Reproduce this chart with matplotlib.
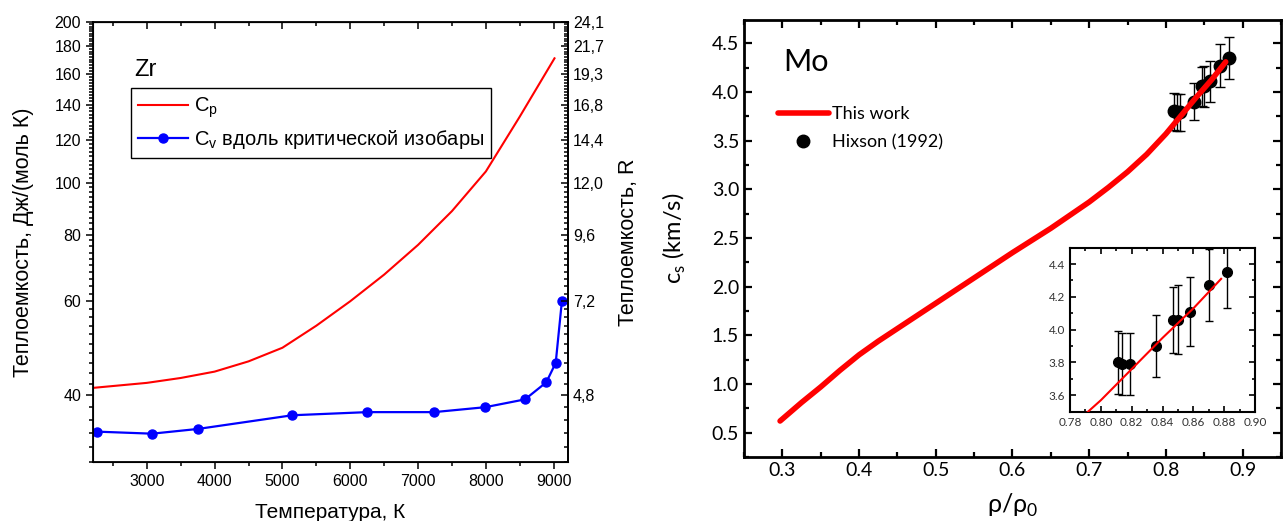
import matplotlib.pyplot as plt
from matplotlib.ticker import FixedLocator, MultipleLocator, NullFormatter, FixedFormatter

# Zr: heat capacity along the critical isobar
t_cp = [2207, 3000, 3500, 4000, 4500, 5000, 5500, 6000, 6500, 7000, 7500, 8000, 8500, 9012]
cp = [41.3, 42.2, 43.1, 44.3, 46.3, 49.1, 54.0, 60.0, 67.3, 76.5, 88.5, 105.0, 133.0, 171.0]
t_cv = [2263, 3079, 3755, 5145, 6251, 7235, 7991, 8577, 8891, 9030, 9121]
cv = [34.2, 33.9, 34.6, 36.7, 37.2, 37.2, 38.0, 39.3, 42.3, 46.0, 60.0]
left_ticks = [40, 60, 80, 100, 120, 140, 160, 180, 200]
r_labels = ["4,8", "7,2", "9,6", "12,0", "14,4", "16,8", "19,3", "21,7", "24,1"]

# Mo: sound speed vs relative density
rho = [0.297, 0.325, 0.35, 0.375, 0.40, 0.425, 0.45, 0.475, 0.50, 0.55, 0.60, 0.65,
       0.70, 0.725, 0.75, 0.775, 0.80, 0.82, 0.84, 0.86, 0.878]
cs = [0.62, 0.81, 0.97, 1.14, 1.30, 1.44, 1.57, 1.70, 1.83, 2.09, 2.35, 2.60,
      2.87, 3.02, 3.18, 3.36, 3.57, 3.76, 3.95, 4.13, 4.31]
rho_exp = [0.811, 0.814, 0.819, 0.836, 0.847, 0.850, 0.858, 0.870, 0.882]
cs_exp = [3.80, 3.79, 3.79, 3.90, 4.06, 4.06, 4.11, 4.27, 4.35]
cs_err = [0.19, 0.19, 0.19, 0.19, 0.20, 0.21, 0.21, 0.22, 0.22]

fig = plt.figure(figsize=(12.83, 5.21), dpi=100)

# ---------- left panel ----------
lfont = ['Liberation Sans', 'DejaVu Sans']
ax1 = fig.add_axes([0.0725, 0.1132, 0.3702, 0.8446])
ax1.plot(t_cp, cp, color='red', lw=1.5, label='C$_\\mathregular{p}$')
ax1.plot(t_cv, cv, color='blue', lw=1.6, marker='o', ms=6.5,
         label='C$_\\mathregular{v}$ вдоль критической изобары')
ax1.set_yscale('log')
ax1.set_xlim(2207, 9211)
ax1.set_ylim(30, 200)
ax1.xaxis.set_major_locator(MultipleLocator(1000))
ax1.xaxis.set_minor_locator(MultipleLocator(500))
ax1.yaxis.set_major_locator(FixedLocator(left_ticks))
ax1.yaxis.set_major_formatter(FixedFormatter([str(v) for v in left_ticks]))
ax1.yaxis.set_minor_locator(FixedLocator(list(range(30, 201, 2))))
ax1.yaxis.set_minor_formatter(NullFormatter())
ax1.tick_params(which='both', direction='out', top=False, right=False, labelsize=11.5, width=1.1)
ax1.tick_params(which='major', length=5)
ax1.tick_params(which='minor', length=3)
for lab in ax1.get_xticklabels() + ax1.get_yticklabels():
    lab.set_family(lfont)
for sp in ax1.spines.values():
    sp.set_linewidth(1.3)
ax1.set_xlabel('Температура, К', family=lfont, fontsize=15, labelpad=10)
ax1.set_ylabel('Теплоемкость, Дж/(моль К)', family=lfont, fontsize=15.5, labelpad=15)
ax1.text(0.086, 0.915, 'Zr', transform=ax1.transAxes, family=lfont, fontsize=17, va='top')
leg1 = ax1.legend(loc='upper left', bbox_to_anchor=(0.079, 0.849), fancybox=False,
                  edgecolor='black', framealpha=1, prop={'family': lfont, 'size': 14.5},
                  handlelength=2.5, handletextpad=0.3, borderpad=0.35,
                  borderaxespad=0, labelspacing=0.4)
leg1.get_frame().set_linewidth(1.0)

# secondary axis in units of R
ax1r = ax1.twinx()
ax1r.set_yscale('log')
ax1r.set_ylim(30, 200)
ax1r.yaxis.set_major_locator(FixedLocator(left_ticks))
ax1r.yaxis.set_major_formatter(FixedFormatter(r_labels))
ax1r.yaxis.set_minor_locator(FixedLocator(list(range(30, 201, 2))))
ax1r.yaxis.set_minor_formatter(NullFormatter())
ax1r.tick_params(which='both', direction='in', labelsize=11.5, width=1.1)
ax1r.tick_params(which='major', length=5)
ax1r.tick_params(which='minor', length=3)
for lab in ax1r.get_yticklabels():
    lab.set_family(lfont)
ax1r.set_ylabel('Теплоемкость, R', family=lfont, fontsize=15.5, labelpad=10)
ax1r.spines['right'].set_linewidth(1.3)

# top ticks inward
ax1t = ax1.secondary_xaxis('top')
ax1t.xaxis.set_major_locator(MultipleLocator(1000))
ax1t.xaxis.set_minor_locator(MultipleLocator(500))
ax1t.tick_params(which='both', direction='in', labeltop=False, width=1.1)
ax1t.tick_params(which='major', length=5)
ax1t.tick_params(which='minor', length=3)

# ---------- right panel ----------
rfont = ['Lato', 'Open Sans', 'DejaVu Sans']
ax2 = fig.add_axes([0.5799, 0.1228, 0.4185, 0.8388])
ax2.plot(rho, cs, color='red', lw=4, solid_capstyle='round', label='This work', zorder=3)
ax2.errorbar(rho_exp, cs_exp, yerr=cs_err, fmt='o', color='black', ms=9, elinewidth=1,
             capsize=3.5, capthick=1, label='Hixson (1992)', zorder=2)
ax2.set_xlim(0.25, 0.95)
ax2.set_ylim(0.25, 4.74)
ax2.xaxis.set_major_locator(MultipleLocator(0.1))
ax2.xaxis.set_minor_locator(MultipleLocator(0.05))
ax2.yaxis.set_major_locator(MultipleLocator(0.5))
ax2.yaxis.set_minor_locator(MultipleLocator(0.25))
ax2.tick_params(which='both', direction='in', top=True, right=True, labelsize=14, width=1.6)
ax2.tick_params(which='major', length=6)
ax2.tick_params(which='minor', length=3.5)
for lab in ax2.get_xticklabels() + ax2.get_yticklabels():
    lab.set_family(rfont)
for sp in ax2.spines.values():
    sp.set_linewidth(2)
ax2.set_xlabel('ρ/ρ$_\\mathregular{0}$', family=rfont, fontsize=18, labelpad=9)
ax2.set_ylabel('c$_\\mathregular{s}$ (km/s)', family=rfont, fontsize=17, labelpad=17)
ax2.text(0.073, 0.935, 'Mo', transform=ax2.transAxes, family=rfont, fontsize=22, va='top')
h, l = ax2.get_legend_handles_labels()
leg2 = ax2.legend([h[0], h[1][0]], l, loc='upper left', bbox_to_anchor=(0.05, 0.819),
                  frameon=False, prop={'family': rfont, 'size': 13}, handlelength=2.8,
                  handletextpad=0.2, borderaxespad=0, labelspacing=0.65)

# inset
ax3 = fig.add_axes([0.834, 0.2098, 0.1442, 0.3148])
ax3.plot(rho, cs, color='red', lw=1.5, zorder=3)
ax3.errorbar(rho_exp, cs_exp, yerr=cs_err, fmt='o', color='black', ms=7, elinewidth=1,
             capsize=3, capthick=1, zorder=2)
ax3.set_xlim(0.78, 0.90)
ax3.set_ylim(3.5, 4.5)
ax3.xaxis.set_major_locator(MultipleLocator(0.02))
ax3.xaxis.set_minor_locator(MultipleLocator(0.01))
ax3.yaxis.set_major_locator(MultipleLocator(0.2))
ax3.yaxis.set_minor_locator(MultipleLocator(0.1))
ax3.xaxis.set_major_formatter(plt.FuncFormatter(lambda v, p: f'{v:.2f}'))
ax3.yaxis.set_major_formatter(plt.FuncFormatter(lambda v, p: f'{v:.1f}'))
ax3.tick_params(which='both', direction='in', top=True, right=True, labelsize=8.5,
                labelcolor='#333333', width=1.2)
ax3.tick_params(which='major', length=4)
ax3.tick_params(which='minor', length=2.5)
for lab in ax3.get_xticklabels() + ax3.get_yticklabels():
    lab.set_family(rfont)
for sp in ax3.spines.values():
    sp.set_linewidth(1.5)

fig.savefig('out.png', dpi=100)
